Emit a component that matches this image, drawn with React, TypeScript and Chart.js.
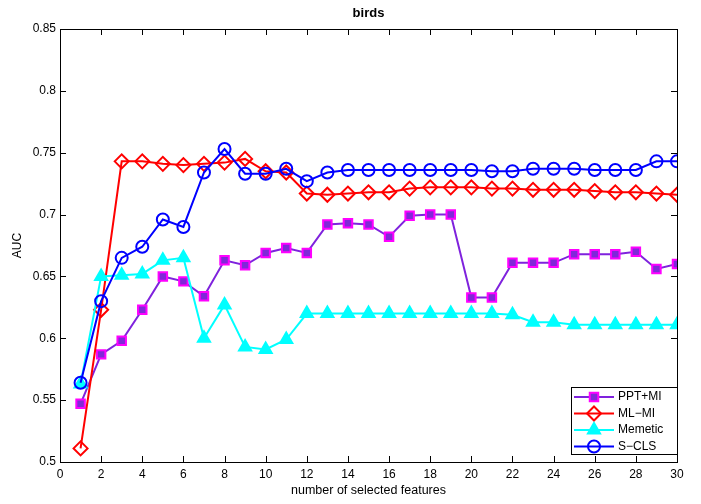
import React, { useEffect, useRef } from "react";
import { Chart, registerables } from "chart.js";

Chart.register(...registerables);

const features = Array.from({ length: 30 }, (_, i) => i + 1);

const pptMI = [0.547, 0.587, 0.598, 0.623, 0.650, 0.646, 0.634, 0.663, 0.659, 0.669, 0.673, 0.669, 0.692, 0.693, 0.692, 0.682, 0.699, 0.700, 0.700, 0.633, 0.633, 0.661, 0.661, 0.661, 0.668, 0.668, 0.668, 0.670, 0.656, 0.660];
const mlMI = [0.511, 0.623, 0.743, 0.743, 0.741, 0.740, 0.741, 0.742, 0.745, 0.735, 0.734, 0.717, 0.716, 0.717, 0.718, 0.718, 0.721, 0.722, 0.722, 0.722, 0.721, 0.721, 0.720, 0.720, 0.720, 0.719, 0.718, 0.718, 0.717, 0.716];
const memetic = [0.563, 0.650, 0.651, 0.652, 0.663, 0.665, 0.600, 0.627, 0.593, 0.591, 0.599, 0.620, 0.620, 0.620, 0.620, 0.620, 0.620, 0.620, 0.620, 0.620, 0.620, 0.619, 0.613, 0.613, 0.611, 0.611, 0.611, 0.611, 0.611, 0.611];
const sCLS = [0.564, 0.630, 0.665, 0.674, 0.696, 0.690, 0.734, 0.753, 0.733, 0.733, 0.737, 0.727, 0.734, 0.736, 0.736, 0.736, 0.736, 0.736, 0.736, 0.736, 0.735, 0.735, 0.737, 0.737, 0.737, 0.736, 0.736, 0.736, 0.743, 0.743];

const seriesNames = ["PPT+MI", "ML\u2212MI", "Memetic", "S\u2212CLS"];
const xTicks = [0, 2, 4, 6, 8, 10, 12, 14, 16, 18, 20, 22, 24, 26, 28, 30];
const yTicks = [0.5, 0.55, 0.6, 0.65, 0.7, 0.75, 0.8, 0.85];

const FONT = "'Liberation Sans', Arial, Helvetica, sans-serif";

const pts = (arr: number[]) => arr.map((v, i) => ({ x: features[i], y: v }));

function marker(ctx: CanvasRenderingContext2D, style: string, r: number, x: number, y: number) {
  ctx.beginPath();
  if (style === "rect") {
    const s = r * Math.SQRT1_2;
    ctx.rect(x - s, y - s, 2 * s, 2 * s);
  } else if (style === "rectRot") {
    ctx.moveTo(x, y - r);
    ctx.lineTo(x + r, y);
    ctx.lineTo(x, y + r);
    ctx.lineTo(x - r, y);
    ctx.closePath();
  } else if (style === "triangle") {
    const half = r * Math.sqrt(3) / 2;
    ctx.moveTo(x, y - r);
    ctx.lineTo(x + half, y + r / 2);
    ctx.lineTo(x - half, y + r / 2);
    ctx.closePath();
  } else {
    ctx.arc(x, y, r, 0, Math.PI * 2);
  }
  ctx.fill();
  ctx.stroke();
}

const decorPlugin = {
  id: "decor",
  afterDraw(chart: any) {
    const { ctx, chartArea: a, scales } = chart;
    const xs = scales.x, ys = scales.y;
    ctx.save();
    ctx.strokeStyle = "#000";
    ctx.lineWidth = 1;
    ctx.strokeRect(Math.round(a.left) + 0.5, Math.round(a.top) + 0.5, Math.round(a.right - a.left), Math.round(a.bottom - a.top));
    const tl = 6;
    ctx.beginPath();
    xTicks.forEach((t) => {
      const px = Math.round(xs.getPixelForValue(t)) + 0.5;
      ctx.moveTo(px, a.bottom);
      ctx.lineTo(px, a.bottom - tl);
      ctx.moveTo(px, a.top);
      ctx.lineTo(px, a.top + tl);
    });
    yTicks.forEach((t) => {
      const py = Math.round(ys.getPixelForValue(t)) + 0.5;
      ctx.moveTo(a.left, py);
      ctx.lineTo(a.left + tl, py);
      ctx.moveTo(a.right, py);
      ctx.lineTo(a.right - tl, py);
    });
    ctx.stroke();
    ctx.fillStyle = "#000";
    ctx.textAlign = "center";
    ctx.textBaseline = "middle";
    ctx.font = `bold 13px ${FONT}`;
    ctx.fillText("birds", (a.left + a.right) / 2, 13);
    ctx.font = `12.5px ${FONT}`;
    ctx.fillText("number of selected features", (a.left + a.right) / 2, 491);
    ctx.save();
    ctx.translate(18, (a.top + a.bottom) / 2);
    ctx.rotate(-Math.PI / 2);
    ctx.font = `12px ${FONT}`;
    ctx.fillText("AUC", 0, 0);
    ctx.restore();
    const bx = 571, by = 387, bw = 106, bh = 67;
    ctx.fillStyle = "#fff";
    ctx.fillRect(bx, by, bw, bh);
    ctx.strokeStyle = "#000";
    ctx.lineWidth = 1;
    ctx.strokeRect(bx + 0.5, by + 0.5, bw, bh);
    const rows = [397, 413.5, 430, 446.5];
    chart.data.datasets.forEach((ds: any, i: number) => {
      const y = rows[i];
      ctx.strokeStyle = ds.borderColor;
      ctx.lineWidth = 2;
      ctx.beginPath();
      ctx.moveTo(574, y);
      ctx.lineTo(614, y);
      ctx.stroke();
      ctx.fillStyle = ds.pointBackgroundColor;
      ctx.strokeStyle = ds.pointBorderColor;
      ctx.lineWidth = ds.pointBorderWidth;
      marker(ctx, ds.pointStyle, ds.pointRadius, 594, y);
      ctx.fillStyle = "#000";
      ctx.textAlign = "left";
      ctx.textBaseline = "middle";
      ctx.font = `12px ${FONT}`;
      ctx.fillText(seriesNames[i], 618, y);
    });
    ctx.restore();
  },
};

export default function App() {
  const ref = useRef<HTMLCanvasElement>(null);
  useEffect(() => {
    if (!ref.current) return;
    const chart = new Chart(ref.current, {
      type: "line",
      data: {
        datasets: [
          {
            label: seriesNames[0],
            data: pts(pptMI),
            borderColor: "#7f22dd",
            borderWidth: 2,
            pointStyle: "rect",
            pointRadius: 6,
            pointBackgroundColor: "#8028d8",
            pointBorderColor: "#ff00ff",
            pointBorderWidth: 2,
            order: 3,
          },
          {
            label: seriesNames[1],
            data: pts(mlMI),
            borderColor: "#ff0000",
            borderWidth: 2,
            pointStyle: "rectRot",
            pointRadius: 7,
            pointBackgroundColor: "rgba(0,0,0,0)",
            pointBorderColor: "#ff0000",
            pointBorderWidth: 2,
            order: 2,
          },
          {
            label: seriesNames[2],
            data: pts(memetic),
            borderColor: "#00ffff",
            borderWidth: 2,
            pointStyle: "triangle",
            pointRadius: 7,
            pointBackgroundColor: "#00ffff",
            pointBorderColor: "#00ffff",
            pointBorderWidth: 2,
            order: 1,
          },
          {
            label: seriesNames[3],
            data: pts(sCLS),
            borderColor: "#0000ff",
            borderWidth: 2,
            pointStyle: "circle",
            pointRadius: 6,
            pointBackgroundColor: "rgba(0,0,0,0)",
            pointBorderColor: "#0000ff",
            pointBorderWidth: 2,
            order: 0,
          },
        ],
      },
      options: {
        animation: false,
        responsive: false,
        maintainAspectRatio: false,
        layout: { padding: { left: 0, right: 24, top: 29, bottom: 0 } },
        plugins: { legend: { display: false }, title: { display: false }, tooltip: { enabled: false } },
        scales: {
          x: {
            type: "linear",
            min: 0,
            max: 30,
            grid: { display: false, drawTicks: false },
            border: { display: false },
            afterBuildTicks: (s: any) => { s.ticks = xTicks.map((v) => ({ value: v })); },
            afterFit: (s: any) => { s.height = 42; },
            ticks: { color: "#000", padding: 5, maxRotation: 0, autoSkip: false, font: { family: FONT, size: 12 }, callback: (v: any) => String(v) },
          },
          y: {
            min: 0.5,
            max: 0.85,
            grid: { display: false, drawTicks: false },
            border: { display: false },
            afterBuildTicks: (s: any) => { s.ticks = yTicks.map((v) => ({ value: v })); },
            afterFit: (s: any) => { s.width = 60; },
            ticks: { color: "#000", padding: 4, autoSkip: false, font: { family: FONT, size: 12 }, callback: (v: any) => String(Number(Number(v).toFixed(2))) },
          },
        },
      },
      plugins: [decorPlugin],
    });
    return () => chart.destroy();
  }, []);
  return (
    <div style={{ position: "fixed", left: 0, top: 0, width: 701, height: 504, background: "#fff" }}>
      <canvas ref={ref} width={701} height={504} style={{ width: 701, height: 504, display: "block" }} />
    </div>
  );
}
